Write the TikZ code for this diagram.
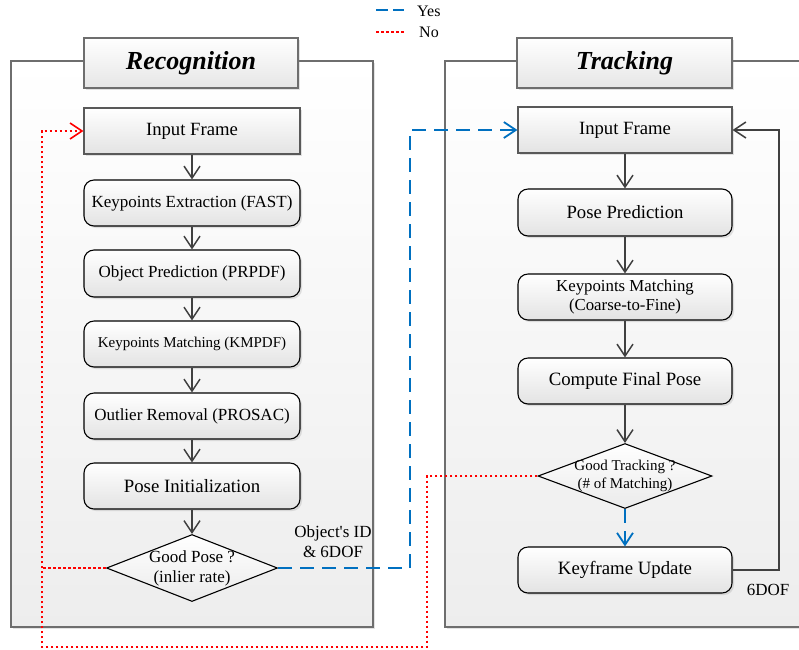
\documentclass[tikz,border=0pt]{standalone}
\usepackage{fontspec}
\setmainfont{Liberation Serif}
\usetikzlibrary{arrows.meta,shapes.geometric,shadows}
\definecolor{lineg}{HTML}{404040}
\definecolor{panelg}{HTML}{6E6E6E}
\definecolor{yesblue}{HTML}{0070C0}
\definecolor{nored}{HTML}{FF0000}
\begin{document}
\begin{tikzpicture}[x=1pt,y=-1pt,
  shad/.style={drop shadow={shadow xshift=2pt,shadow yshift=-2pt,opacity=0.22}},
  panel/.style={draw=panelg, line width=1.2pt, top color=white, bottom color=black!7, shad},
  header/.style={draw=panelg, line width=1.2pt, top color=white, bottom color=black!10, shad,
    minimum height=50pt, inner sep=0pt, font=\fontsize{26}{30}\selectfont\bfseries\itshape},
  boxbase/.style={line width=1.1pt, top color=white, bottom color=black!11, shad,
    minimum height=46pt, inner sep=0pt, align=center, font=\fontsize{17}{20}\selectfont},
  rbox/.style={boxbase, draw=black, rounded corners=10pt},
  sbox/.style={boxbase, draw=black!65},
  diam/.style={diamond, draw=black, line width=1.1pt, top color=white, bottom color=black!8, inner sep=0pt},
  dtext/.style={align=center, inner sep=0pt},
  arr/.style={draw=lineg, line width=1.5pt, -{Straight Barb[length=12pt,width=16pt]}},
  yesline/.style={draw=yesblue, line width=1.8pt, dash pattern=on 14pt off 8pt},
  noline/.style={draw=nored, line width=1.6pt, dash pattern=on 2.5pt off 2.5pt},
  lbl/.style={inner sep=0pt, font=\fontsize{17}{20}\selectfont}
]
\useasboundingbox (0,0) rectangle (799,649);
\fill[white] (0,0) rectangle (799,649);

% panels
\path[panel] (11,61) rectangle (373,627);
\path[panel] (445,61) rectangle (840,627);

% headers
\node[header, minimum width=214pt] (lhead) at (191,63) {Recognition};
\node[header, minimum width=215pt] (rhead) at (624.5,63) {Tracking};

% left column
\node[sbox, minimum width=216pt, font=\fontsize{18.7}{22}\selectfont] (linput) at (192,131) {Input Frame};
\node[rbox, minimum width=216pt] (lfast) at (192,203) {Keypoints Extraction (FAST)};
\node[rbox, minimum width=216pt, minimum height=47pt] (lobj) at (192,273.5) {Object Prediction (PRPDF)};
\node[rbox, minimum width=216pt, font=\fontsize{15}{18}\selectfont] (lkm) at (192,344) {Keypoints Matching (KMPDF)};
\node[rbox, minimum width=216pt] (lout) at (192,416) {Outlier Removal (PROSAC)};
\node[rbox, minimum width=216pt, font=\fontsize{18.8}{22}\selectfont] (lpose) at (192,486) {Pose Initialization};
\node[diam, minimum width=171pt, minimum height=67pt] (lgood) at (192,568) {};
\node[dtext, font=\fontsize{17}{20}\selectfont] (lgoodt) at (192,568) {Good Pose ?\\(inlier rate)};

% right column
\node[sbox, minimum width=214pt, font=\fontsize{18.7}{22}\selectfont] (rinput) at (625,130) {Input Frame};
\node[rbox, minimum width=214pt, minimum height=47pt, font=\fontsize{18.7}{22}\selectfont] (rpp) at (625,212.5) {Pose Prediction};
\node[rbox, minimum width=214pt, font=\fontsize{16.8}{19}\selectfont] (rkm) at (625,297) {Keypoints Matching\\(Coarse-to-Fine)};
\node[rbox, minimum width=214pt, font=\fontsize{18.8}{22}\selectfont] (rcfp) at (625,381) {Compute Final Pose};
\node[diam, minimum width=174pt, minimum height=65pt] (rgood) at (625,476) {};
\node[dtext, font=\fontsize{15}{18}\selectfont] (rgoodt) at (625,476) {Good Tracking ?\\(\# of Matching)};
\node[rbox, minimum width=214pt, font=\fontsize{18.8}{22}\selectfont] (rku) at (625,570) {Keyframe Update};

% main flow arrows
\draw[arr] (linput) -- (lfast);
\draw[arr] (lfast) -- (lobj);
\draw[arr] (lobj) -- (lkm);
\draw[arr] (lkm) -- (lout);
\draw[arr] (lout) -- (lpose);
\draw[arr] (lpose) -- (lgood);
\draw[arr] (rinput) -- (rpp);
\draw[arr] (rpp) -- (rkm);
\draw[arr] (rkm) -- (rcfp);
\draw[arr] (rcfp) -- (rgood);

% feedback 6DOF
\coordinate (fb) at (779,570);
\draw[arr] (rku.east) -- (fb) |- (rinput.east);
\node[lbl] (sixdof) at (768,590) {6DOF};

% yes paths
\draw[yesline, -{Straight Barb[length=12pt,width=16pt]}] (rgood.south) -- (rku.north);
\coordinate (yb) at (410,568);
\draw[yesline, -{Straight Barb[length=12pt,width=16pt]}] (lgood.east) -- (yb) |- (rinput.west);
\node[lbl, align=center] (objid) at (333,542) {Object\textquotesingle s ID\\\& 6DOF};

% no paths
\coordinate (na) at (427,476);
\coordinate (nb) at (427,647);
\coordinate (nc) at (42,647);
\coordinate (nd) at (42,131);
\coordinate (ne) at (42,568);
\draw[noline, -{Straight Barb[length=12pt,width=16pt]}] (rgood.west) -- (na) -- (nb) -- (nc) -- (nd) -- (linput.west);
\draw[noline] (lgood.west) -- (ne);

% legend
\coordinate (ly1) at (376,10);
\coordinate (ly2) at (404,10);
\coordinate (ln1) at (376,32);
\coordinate (ln2) at (404,32);
\draw[yesline, dash pattern=on 12pt off 5pt] (ly1) -- (ly2);
\draw[noline] (ln1) -- (ln2);
\node[lbl, anchor=west, font=\fontsize{16}{19}\selectfont] (lyes) at (417,11) {Yes};
\node[lbl, anchor=west, font=\fontsize{16}{19}\selectfont] (lno) at (419,32) {No};
\end{tikzpicture}
\end{document}
